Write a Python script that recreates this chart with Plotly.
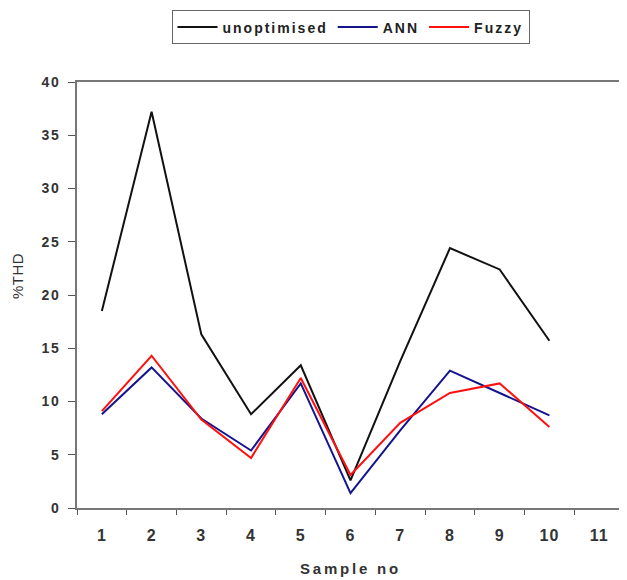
import plotly.graph_objects as go

categories = ["1", "2", "3", "4", "5", "6", "7", "8", "9", "10", "11"]
samples = ["1", "2", "3", "4", "5", "6", "7", "8", "9", "10"]
unoptimised = [18.5, 37.2, 16.3, 8.8, 13.4, 2.6, 13.8, 24.4, 22.4, 15.7]
ann = [8.8, 13.2, 8.4, 5.4, 11.7, 1.4, 7.3, 12.9, 10.8, 8.7]
fuzzy = [9.1, 14.3, 8.3, 4.7, 12.2, 3.1, 8.0, 10.8, 11.7, 7.6]
y_ticks = [0, 5, 10, 15, 20, 25, 30, 35, 40]

font_family = "Liberation Sans, Arial, sans-serif"


def spaced(t, px=1.5):
    return f'<span style="letter-spacing:{px}px">{t}</span>'


fig = go.Figure()
fig.add_trace(go.Scatter(x=samples, y=unoptimised, mode="lines", name=spaced("unoptimised", 2),
                         line=dict(color="#111111", width=2)))
fig.add_trace(go.Scatter(x=samples, y=ann, mode="lines", name=spaced("ANN", 2),
                         line=dict(color="#14148c", width=2)))
fig.add_trace(go.Scatter(x=samples, y=fuzzy, mode="lines", name=spaced("Fuzzy", 2),
                         line=dict(color="#ff1010", width=2)))

# The page body adds an 8px margin, so the figure is sized/offset to compensate.
fig.update_layout(
    width=619, height=572,
    margin=dict(l=69, r=3, t=72, b=72),
    paper_bgcolor="white", plot_bgcolor="white",
    font=dict(family=font_family, size=12, color="#333333"),
    showlegend=True,
    legend=dict(orientation="h", x=0.5, xanchor="center", y=1.168, yanchor="top",
                bordercolor="#666666", borderwidth=1, bgcolor="white",
                font=dict(family=font_family, size=14, color="#222222", weight="bold"),
                itemwidth=40, tracegroupgap=0),
    xaxis=dict(type="category", categoryorder="array", categoryarray=categories,
               tickvals=categories, ticktext=[spaced(c, 1) for c in categories],
               range=[-0.5, 10.5], tickson="boundaries", ticks="outside", ticklen=5,
               ticklabelstandoff=12, automargin=False,
               tickcolor="#555555", showgrid=False, zeroline=False,
               showline=True, linecolor="#777777", linewidth=2, mirror=True,
               tickfont=dict(family=font_family, size=16, color="#333333", weight="bold")),
    yaxis=dict(range=[0, 40], tickvals=y_ticks, ticktext=[spaced(str(v), 1.5) for v in y_ticks],
               ticks="outside", ticklen=7, automargin=False, ticklabelstandoff=5,
               tickcolor="#555555", showgrid=False, zeroline=False,
               showline=True, linecolor="#777777", linewidth=2, mirror=True,
               tickfont=dict(family=font_family, size=14, color="#333333", weight="bold")),
    annotations=[
        dict(text=spaced("Sample no", 2.8), xref="paper", yref="paper", x=0.5, y=-0.1425,
             xanchor="center", yanchor="middle", showarrow=False,
             font=dict(family=font_family, size=15, color="#333333", weight="bold")),
        dict(text=spaced("%THD", 0.5), xref="paper", yref="paper", x=-0.110, y=0.544,
             xanchor="center", yanchor="middle", showarrow=False, textangle=-90,
             font=dict(family=font_family, size=15, color="#333333")),
    ],
)

fig.write_html("out.html")
